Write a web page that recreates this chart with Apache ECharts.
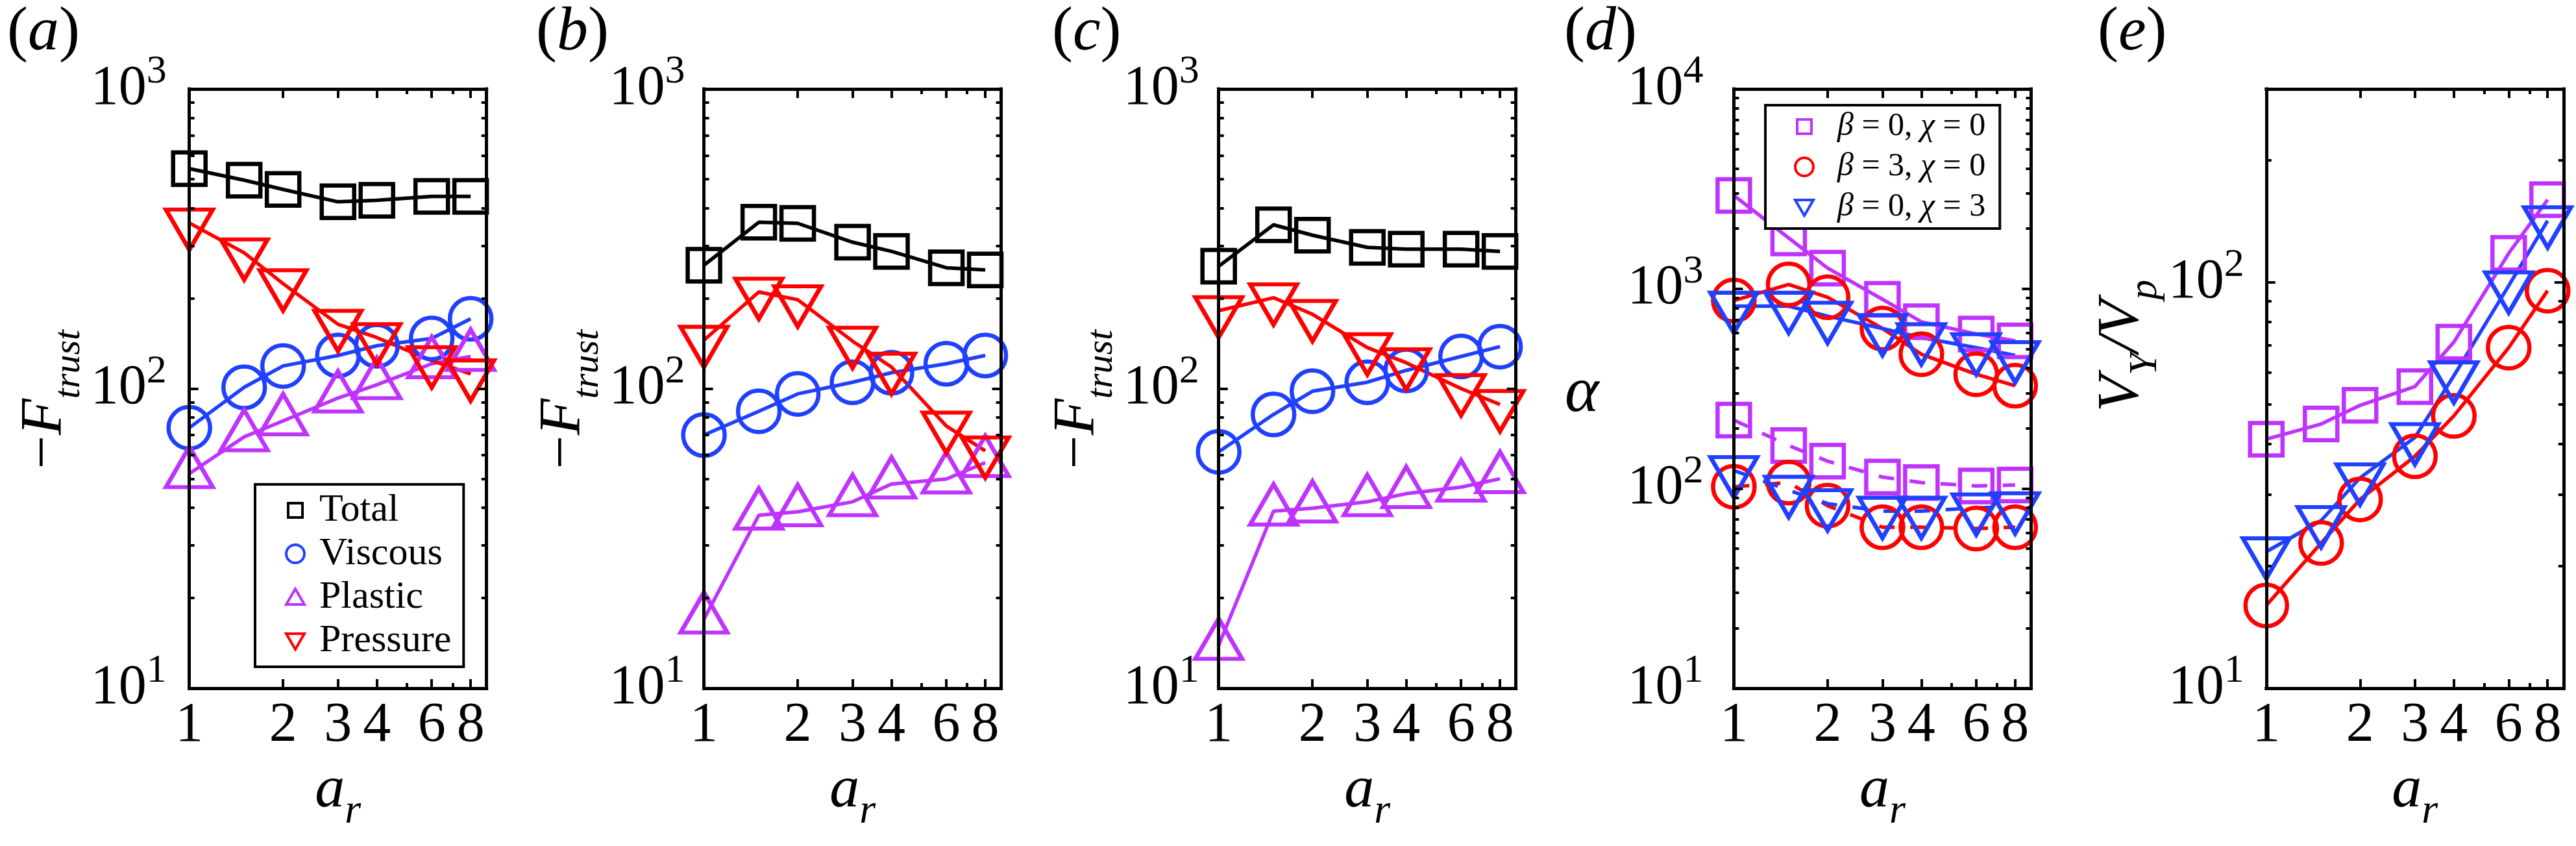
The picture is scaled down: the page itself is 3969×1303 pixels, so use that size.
<!doctype html>
<html lang="en">
<head>
<meta charset="UTF-8">
<title>thrust force panels</title>
<script src="https://cdn.jsdelivr.net/npm/echarts@6/dist/echarts.min.js"></script>
<style>
    html, body {margin: 0; padding: 0; background: #fff;}
    #main {width: 3969px; height: 1303px;}
</style>
</head>
<body>
<div id="main"></div>
<script>
    // aspect ratio a_r (shared x values)
    var ar = [1, 1.5, 2, 3, 4, 6, 8];
    var xLabelVals = [1, 2, 3, 4, 6, 8];
    var xMajorTicks = [2, 3, 4, 6, 8];
    var xMinorTicks = [5, 7];

    // (a) -F_trust components
    var aTotal = [542, 496, 462, 420, 425, 438, 438];
    var aViscous = [74, 101, 119, 129, 139, 147, 171];
    var aPlastic = [52, 69, 78, 93, 103, 121, 128];
    var aPressure = [357, 284, 224, 164, 148, 124, 112];
    // (b)
    var bTotal = [258, 359, 356, 308, 287, 253, 249];
    var bViscous = [70, 84, 96, 105, 113, 121, 129];
    var bPlastic = [17, 37.8, 38.8, 41.9, 48, 49.9, 56.6];
    var bPressure = [145, 210, 198, 144, 118, 75, 62];
    // (c)
    var cTotal = [256, 352, 325, 296, 292, 292, 287];
    var cViscous = [61.5, 82, 98, 105, 115, 128, 138];
    var cPlastic = [13.9, 39, 39.9, 41.9, 44.6, 46.9, 50];
    var cPressure = [182, 201, 177, 137, 122, 100, 88.5];
    // (d) alpha, solid = upper set, dashed = lower set
    var dSquareSolid = [2930, 1795, 1268, 885, 683, 593, 548];
    var dCircleSolid = [873, 1051, 906, 632, 470, 373, 327];
    var dTriSolid = [818, 818, 729, 632, 569, 507, 463];
    var dSquareDash = [220, 164, 137, 114, 107, 103, 104];
    var dCircleDash = [102, 107, 82, 64, 64, 63, 64];
    var dTriDash = [123, 98, 84, 77, 77, 80, 81];
    // (e) V_Y / V_p
    var eSquare = [41.1, 44.8, 49.8, 55.4, 71.3, 118, 160];
    var eCircle = [16.0, 22.8, 29.2, 37.3, 46.9, 69.1, 95.5];
    var eTri = [21.7, 25.9, 33.0, 41.5, 58.9, 98.2, 142];

    // y ranges (decades)
    var yRanges = [[10, 1000], [10, 1000], [10, 1000], [10, 10000], [10, 300]];
    var panelNames = ['a', 'b', 'c', 'd', 'e'];

    var LOG = Math.log10;
    var SERIF = "'Liberation Serif', 'Times New Roman', Times, 'DejaVu Serif', serif";
    var BLACK = '#000000', BLUE = '#2040ff', PURPLE = '#bf33ff', RED = '#ff0000';

    var gridLeft = [291.7, 1084.6, 1877.7, 2671.4, 3491.8];
    var GRID_TOP = 137, GRID_W = 458, GRID_H = 923;
    var yLabelMargin = [35, 29, 30, 47, 34];
    var panelLabelX = [11, 826, 1621, 2410, 3232];

    var SYM = {
        square: 'rect',
        circle: 'circle',
        up: 'triangle',
        down: 'path://M0,0L20,0L10,17Z'
    };
    var SYM_SIZE = {square: 50, circle: 64, up: [72, 62], down: [72, 62]};
    var SYM_OFF = {square: [0, 0], circle: [0, 0], up: [0, '-16.7%'], down: [0, '16.7%']};

    function line(name, g, vals, shape, color, dashed) {
        return {
            name: name, type: 'line', xAxisIndex: 4 * g, yAxisIndex: 4 * g,
            data: ar.map(function (x, k) { return [LOG(x), LOG(vals[k])]; }),
            symbol: SYM[shape], symbolSize: SYM_SIZE[shape], symbolOffset: SYM_OFF[shape],
            clip: false, silent: true, z: 2,
            lineStyle: {color: color, width: 5.5, type: dashed ? [24, 24] : 'solid'},
            itemStyle: {color: 'rgba(0,0,0,0)', borderColor: color, borderWidth: 6.5}
        };
    }

    var mainTick = {show: true, inside: true, length: 14, lineStyle: {color: '#000', width: 4}};
    var minorTick = {show: true, inside: true, length: 8, lineStyle: {color: '#000', width: 4}};
    var boxLine = {show: true, onZero: false, lineStyle: {color: '#000', width: 5, cap: 'square'}};

    function makeXAxes(g) {
        var out = [];
        ['bottom', 'top'].forEach(function (pos) {
            var ax = {
                gridIndex: g, type: 'value', position: pos, min: 0, max: LOG(9), z: 3,
                splitLine: {show: false},
                axisLine: boxLine,
                axisTick: Object.assign({customValues: xMajorTicks.map(LOG)}, mainTick),
                axisLabel: {show: false}
            };
            if (pos === 'bottom') {
                ax.axisLabel = {
                    show: true, customValues: xLabelVals.map(LOG), margin: 15,
                    fontFamily: SERIF, fontSize: 86, lineHeight: 86, color: '#000',
                    formatter: function (v) { return String(Math.round(Math.pow(10, v))); }
                };
                ax.name = '{a|a}{r|r}';
                ax.nameLocation = 'middle';
                ax.nameGap = 112;
                ax.nameTextStyle = {
                    rich: {
                        a: {fontFamily: SERIF, fontStyle: 'italic', fontSize: 92, lineHeight: 92, verticalAlign: 'top', color: '#000'},
                        r: {fontFamily: SERIF, fontStyle: 'italic', fontSize: 64, lineHeight: 64, verticalAlign: 'top', padding: [46, 0, 0, 0], color: '#000'}
                    }
                };
            }
            out.push(ax);
        });
        ['bottom', 'top'].forEach(function (pos) {
            out.push({
                gridIndex: g, type: 'value', position: pos, min: 0, max: LOG(9), z: 3,
                splitLine: {show: false},
                axisLine: {show: false, onZero: false},
                axisTick: Object.assign({customValues: xMinorTicks.map(LOG)}, minorTick),
                axisLabel: {show: false}
            });
        });
        return out;
    }

    var fName = {
        text: '{m|\u2212}{f|F}{s|trust}',
        rich: {
            m: {fontFamily: SERIF, fontSize: 92, lineHeight: 92, verticalAlign: 'top', color: '#000'},
            f: {fontFamily: SERIF, fontStyle: 'italic', fontSize: 92, lineHeight: 92, verticalAlign: 'top', color: '#000'},
            s: {fontFamily: SERIF, fontStyle: 'italic', fontSize: 58, lineHeight: 58, verticalAlign: 'top', padding: [54, 0, 0, 0], color: '#000'}
        }
    };
    var yNames = [
        {text: fName.text, rich: fName.rich, rotate: 90, gap: 174, padding: [0, 33, 0, 0]},
        {text: fName.text, rich: fName.rich, rotate: 90, gap: 147, padding: [0, 33, 0, 0]},
        {text: fName.text, rich: fName.rich, rotate: 90, gap: 148, padding: [0, 33, 0, 0]},
        {text: '{g|\u03b1}', rotate: 0, gap: 208, padding: [17, 0, 0, 0], rich: {
            g: {fontFamily: SERIF, fontStyle: 'italic', fontSize: 100, lineHeight: 100, color: '#000'}
        }},
        {text: '{v|V}{s|Y}{v|/V}{s|p}', rotate: 90, gap: 166, padding: [0, 0, 0, 132], rich: {
            v: {fontFamily: SERIF, fontStyle: 'italic', fontSize: 92, lineHeight: 92, verticalAlign: 'top', color: '#000'},
            s: {fontFamily: SERIF, fontStyle: 'italic', fontSize: 62, lineHeight: 62, verticalAlign: 'top', padding: [51, 0, 0, 0], color: '#000'}
        }}
    ];

    function makeYAxes(g) {
        var lo = LOG(yRanges[g][0]), hi = LOG(yRanges[g][1]);
        var decades = [], minors = [];
        for (var d = Math.floor(lo); d <= Math.ceil(hi); d++) {
            if (d >= lo - 1e-9 && d <= hi + 1e-9) decades.push(d);
            for (var k = 2; k <= 9; k++) {
                var v = d + LOG(k);
                if (v > lo && v < hi - 1e-9) minors.push(v);
            }
        }
        var out = [];
        ['left', 'right'].forEach(function (pos) {
            var ax = {
                gridIndex: g, type: 'value', position: pos, min: lo, max: hi, z: 3,
                splitLine: {show: false},
                axisLine: boxLine,
                axisTick: Object.assign({customValues: decades}, mainTick),
                axisLabel: {show: false}
            };
            if (pos === 'left') {
                var nm = yNames[g];
                ax.axisLabel = {
                    show: true, customValues: decades, margin: yLabelMargin[g],
                    formatter: function (v) { return '{b|10}{s|' + Math.round(v) + '}'; },
                    rich: {
                        b: {fontFamily: SERIF, fontSize: 86, lineHeight: 86, verticalAlign: 'bottom', color: '#000'},
                        s: {fontFamily: SERIF, fontSize: 62, lineHeight: 62, verticalAlign: 'bottom', padding: [0, 0, 38, 0], color: '#000'}
                    }
                };
                ax.name = nm.text;
                ax.nameLocation = 'middle';
                ax.nameRotate = nm.rotate;
                ax.nameGap = nm.gap;
                ax.nameTextStyle = {padding: nm.padding, rich: nm.rich};
            }
            out.push(ax);
        });
        ['left', 'right'].forEach(function (pos) {
            out.push({
                gridIndex: g, type: 'value', position: pos, min: lo, max: hi, z: 3,
                splitLine: {show: false},
                axisLine: {show: false, onZero: false},
                axisTick: Object.assign({customValues: minors}, minorTick),
                axisLabel: {show: false}
            });
        });
        return out;
    }

    var grids = [], xAxes = [], yAxes = [], graphics = [];
    for (var g = 0; g < 5; g++) {
        grids.push({left: gridLeft[g], top: GRID_TOP, width: GRID_W, height: GRID_H, containLabel: false});
        xAxes = xAxes.concat(makeXAxes(g));
        yAxes = yAxes.concat(makeYAxes(g));
        graphics.push({
            type: 'text', left: panelLabelX[g], top: 3, silent: true,
            style: {
                text: '{p|(}{l|' + panelNames[g] + '}{p|)}',
                rich: {
                    p: {fontFamily: SERIF, fontSize: 96, lineHeight: 96, fill: '#000'},
                    l: {fontFamily: SERIF, fontStyle: 'italic', fontSize: 96, lineHeight: 96, fill: '#000'}
                }
            }
        });
    }

    var series = [
        line('Total', 0, aTotal, 'square', BLACK),
        line('Viscous', 0, aViscous, 'circle', BLUE),
        line('Plastic', 0, aPlastic, 'up', PURPLE),
        line('Pressure', 0, aPressure, 'down', RED),
        line('Total', 1, bTotal, 'square', BLACK),
        line('Viscous', 1, bViscous, 'circle', BLUE),
        line('Plastic', 1, bPlastic, 'up', PURPLE),
        line('Pressure', 1, bPressure, 'down', RED),
        line('Total', 2, cTotal, 'square', BLACK),
        line('Viscous', 2, cViscous, 'circle', BLUE),
        line('Plastic', 2, cPlastic, 'up', PURPLE),
        line('Pressure', 2, cPressure, 'down', RED),
        line('b0c0', 3, dSquareSolid, 'square', PURPLE),
        line('b3c0', 3, dCircleSolid, 'circle', RED),
        line('b0c3', 3, dTriSolid, 'down', BLUE),
        line('b0c0 dash', 3, dSquareDash, 'square', PURPLE, true),
        line('b3c0 dash', 3, dCircleDash, 'circle', RED, true),
        line('b0c3 dash', 3, dTriDash, 'down', BLUE, true),
        line('b0c0', 4, eSquare, 'square', PURPLE),
        line('b3c0', 4, eCircle, 'circle', RED),
        line('b0c3', 4, eTri, 'down', BLUE)
    ];

    var ICON_SQ = 'path://M0,0M28,28M3,3L25,3L25,25L3,25Z';
    var ICON_DOWN = 'path://M0,0M28,28M0,3L28,3L14,27Z';
    var ICON_UP = 'path://M0,0M28,28M0,25L28,25L14,1Z';
    function legItem(name, icon, color) {
        return {name: name, icon: icon, itemStyle: {color: 'rgba(0,0,0,0)', borderColor: color, borderWidth: 4}};
    }
    var legendText = {
        'b0c0': '{i|\u03b2} = 0, {i|\u03c7} = 0',
        'b3c0': '{i|\u03b2} = 3, {i|\u03c7} = 0',
        'b0c3': '{i|\u03b2} = 0, {i|\u03c7} = 3'
    };

    var legends = [
        {
            orient: 'vertical', left: 393, top: 746, selectedMode: false,
            padding: [10, 19, 10, 46], itemGap: 7, itemWidth: 28, itemHeight: 28,
            borderColor: '#000', borderWidth: 4, backgroundColor: '#fff',
            textStyle: {fontFamily: SERIF, fontSize: 60, lineHeight: 60, color: '#000', padding: [0, 0, 0, 18]},
            data: [
                legItem('Total', ICON_SQ, BLACK),
                legItem('Viscous', 'circle', BLUE),
                legItem('Plastic', ICON_UP, PURPLE),
                legItem('Pressure', ICON_DOWN, RED)
            ]
        },
        {
            orient: 'vertical', left: 2720, top: 162, selectedMode: false,
            padding: [8, 22, 8, 44], itemGap: 12, itemWidth: 28, itemHeight: 28,
            borderColor: '#000', borderWidth: 4, backgroundColor: '#fff',
            formatter: function (name) { return legendText[name]; },
            textStyle: {
                fontFamily: SERIF, fontSize: 50, lineHeight: 50, color: '#000', padding: [0, 0, 0, 32],
                rich: {i: {fontFamily: SERIF, fontStyle: 'italic', fontSize: 50, lineHeight: 50, color: '#000'}}
            },
            data: [
                legItem('b0c0', ICON_SQ, PURPLE),
                legItem('b3c0', 'circle', RED),
                legItem('b0c3', ICON_DOWN, BLUE)
            ]
        }
    ];

    var chart = echarts.init(document.getElementById('main'), null, {renderer: 'canvas'});
    chart.setOption({
        animation: false,
        backgroundColor: '#fff',
        grid: grids,
        xAxis: xAxes,
        yAxis: yAxes,
        legend: legends,
        graphic: graphics,
        series: series
    });
</script>
</body>
</html>
